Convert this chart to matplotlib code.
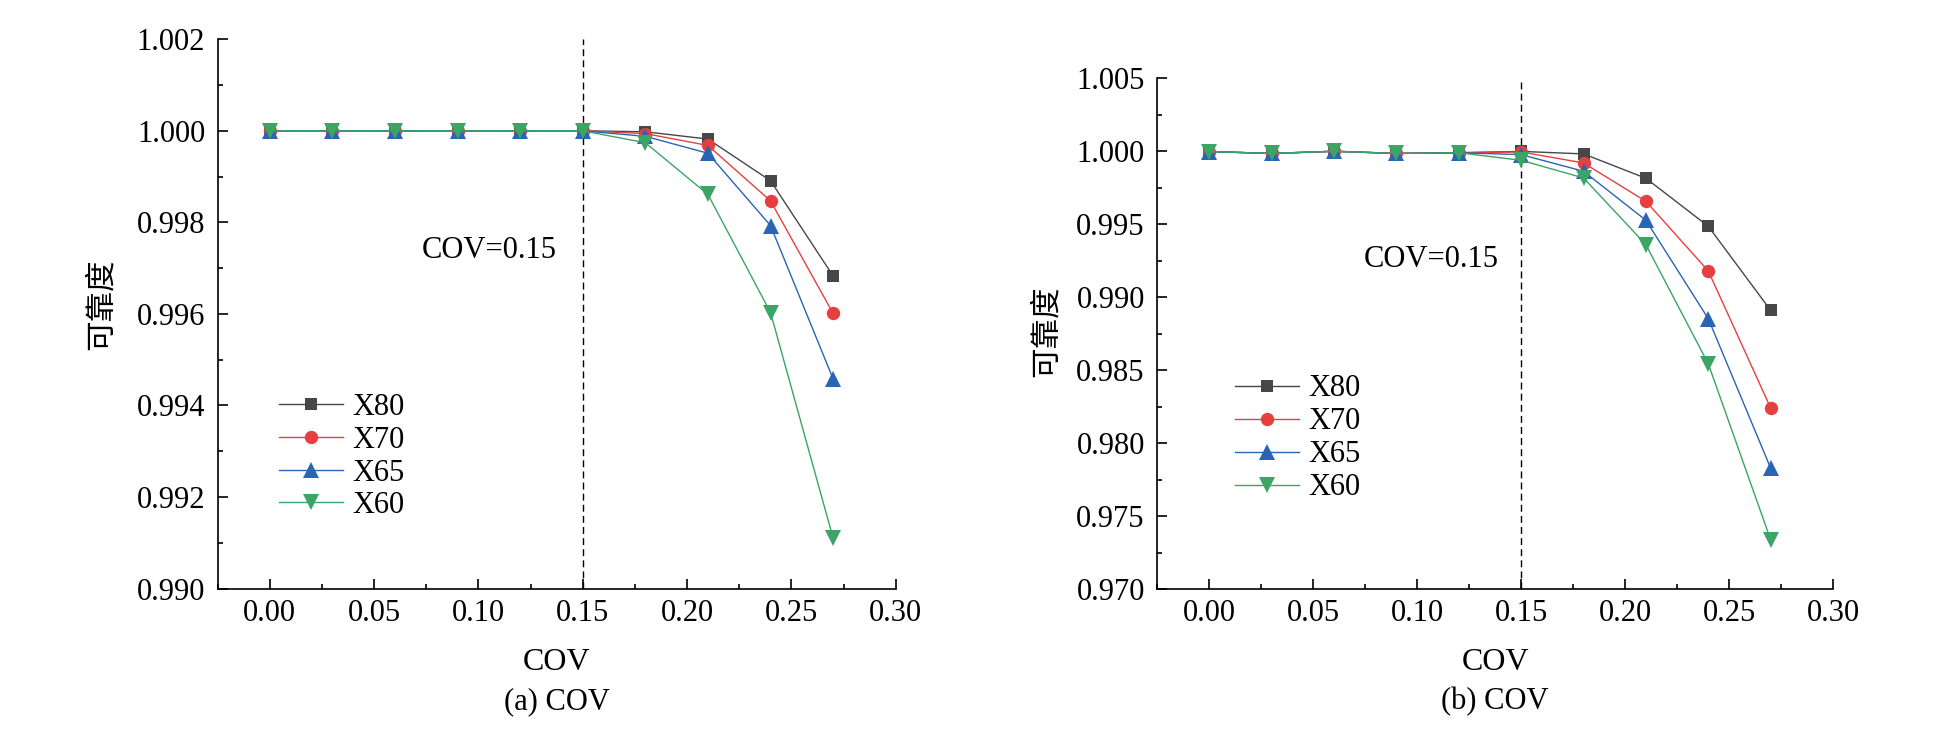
import matplotlib
matplotlib.use("Agg")
import matplotlib.pyplot as plt
from matplotlib.ticker import MultipleLocator, FormatStrFormatter

plt.rcParams['font.family'] = ['Liberation Serif', 'Noto Sans CJK SC', 'DejaVu Sans']
plt.rcParams['font.size'] = 22

cov = [0.00, 0.03, 0.06, 0.09, 0.12, 0.15, 0.18, 0.21, 0.24, 0.27]
series_names = ['X80', 'X70', 'X65', 'X60']

# (a)
a_X80 = [1.0, 1.0, 1.0, 1.0, 1.0, 1.0, 0.99998, 0.99982, 0.99891, 0.99683]
a_X70 = [1.0, 1.0, 1.0, 1.0, 1.0, 1.0, 0.99994, 0.99968, 0.99847, 0.99601]
a_X65 = [1.0, 1.0, 1.0, 1.0, 1.0, 1.0, 0.99988, 0.99951, 0.99793, 0.99458]
a_X60 = [1.0, 1.0, 1.0, 1.0, 1.0, 1.0, 0.99974, 0.99861, 0.99603, 0.99110]

# (b)
b_X80 = [0.99998, 0.99985, 1.0, 0.99985, 0.99990, 0.99999, 0.99982, 0.99815, 0.99486, 0.98910]
b_X70 = [0.99998, 0.99985, 1.0, 0.99985, 0.99990, 0.99995, 0.99920, 0.99657, 0.99180, 0.98241]
b_X65 = [0.99998, 0.99985, 1.0, 0.99985, 0.99990, 0.99977, 0.99863, 0.99527, 0.98853, 0.97829]
b_X60 = [0.99998, 0.99985, 1.0, 0.99985, 0.99990, 0.99938, 0.99817, 0.99360, 0.98544, 0.97338]

colors = ['#474747', '#e5403f', '#2a64b4', '#3aa564']
markers = ['s', 'o', '^', 'v']
msizes = [9, 9.6, 11.5, 11.5]

fig = plt.figure(figsize=(19.58, 7.34), dpi=100)
W, H = 1958.0, 734.0
axA = fig.add_axes([217.7 / W, 1 - 588.5 / H, (895.7 - 217.7) / W, (588.5 - 39.3) / H])
axB = fig.add_axes([1157.3 / W, 1 - 589.0 / H, (1833.0 - 1157.3) / W, (589.0 - 78.3) / H])

panels = [
    (axA, [a_X80, a_X70, a_X65, a_X60], (0.990, 1.002), 0.002, 0.001, '%.3f',
     (0.0730, 0.99738), (0.0909, 0.240), 0.12, '(a) COV', 101.3 / W, 1 - 304 / H),
    (axB, [b_X80, b_X70, b_X65, b_X60], (0.970, 1.005), 0.005, 0.0025, '%.3f',
     (0.0744, 0.99256), (0.115, 0.295), 0.13, '(b) COV', 1046.7 / W, 1 - 331 / H),
]

for ax, data, ylim, ymaj, ymin_, fmt, txtpos, legpos, lspace, cap, ylx, yly in panels:
    for vals, name, c, m, ms in zip(data, series_names, colors, markers, msizes):
        ax.plot(cov, vals, color=c, marker=m, markersize=ms, linewidth=1.0,
                markeredgewidth=0, label=name)
    ax.axvline(0.15, color='black', linewidth=1.0, linestyle=(0, (5, 3)), zorder=1)
    ax.set_xlim(-0.025, 0.30)
    ax.set_ylim(*ylim)
    ax.xaxis.set_major_locator(MultipleLocator(0.05))
    ax.xaxis.set_minor_locator(MultipleLocator(0.025))
    ax.xaxis.set_major_formatter(FormatStrFormatter('%.2f'))
    ax.yaxis.set_major_locator(MultipleLocator(ymaj))
    ax.yaxis.set_minor_locator(MultipleLocator(ymin_))
    ax.yaxis.set_major_formatter(FormatStrFormatter(fmt))
    for s in ['top', 'right']:
        ax.spines[s].set_visible(False)
    for s in ['left', 'bottom']:
        ax.spines[s].set_linewidth(1.2)
    ax.tick_params(which='major', direction='in', length=7, width=1.2, labelsize=22)
    ax.tick_params(which='minor', direction='in', length=3.6, width=1.2)
    ax.tick_params(axis='x', which='major', pad=7.5)
    ax.tick_params(axis='y', which='major', pad=9)
    ax.text(txtpos[0], txtpos[1], 'COV=0.15', fontsize=22, ha='left', va='center')
    ax.legend(loc='center left', bbox_to_anchor=legpos, frameon=False, fontsize=22,
              handlelength=2.1, handletextpad=0.3, labelspacing=lspace,
              borderpad=0, borderaxespad=0)
    pos = ax.get_position()
    cx = (pos.x0 + pos.x1) / 2
    fig.text(cx, 1 - 662.7 / H, 'COV', fontsize=23, ha='center', va='center')
    fig.text(cx, 1 - 701.7 / H, cap, fontsize=22, ha='center', va='center')
    fig.text(ylx, yly, '可靠度', fontsize=22, ha='center', va='center', rotation=90,
             family=['Noto Sans CJK SC', 'DejaVu Sans'])

fig.savefig('out.png', dpi=100)
